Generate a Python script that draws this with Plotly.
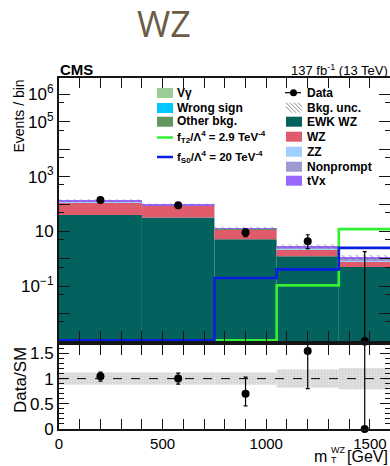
import plotly.graph_objects as go

# ---------------- data ----------------
bin_edges = [0, 400, 750, 1050, 1350, 3000]
ewk_wz = [40, 32, 5.2, 1.24, 0.50]
wz = [72, 53, 6.9, 0.91, 0.29]
vgamma = [0.8, 0.3, 0.03, 0.02, 0.005]
wrong_sign = [0.8, 0.3, 0.04, 0.02, 0.005]
other_bkg = [1.9, 0.6, 0.08, 0.04, 0.01]
zz = [3.0, 1.2, 0.15, 0.08, 0.03]
nonprompt = [10.0, 3.5, 0.45, 0.30, 0.20]
tvx = [4.0, 1.5, 0.25, 0.20, 0.10]
bkg_unc = [0.12, 0.12, 0.12, 0.18, 0.21]      # relative uncertainty

data_x = [200, 575, 900, 1200, 1475]
data_y = [140, 90, 9.2, 4.35, 0]
data_err_up = [12, 9.5, 3.3, 3.2, 1.84]
data_err_dn = [12, 9.5, 2.7, 2.0, 0]

ratio = [1.045, 1.0, 0.70, 1.55, 0]
ratio_err_up = [0.085, 0.11, 0.33, 1.0, 1.667]
ratio_err_dn = [0.095, 0.11, 0.24, 0.75, 0]

f_t2 = [0, 0, 0, 0.107, 12.1]
f_s0 = [0, 0, 0.20, 0.41, 2.5]

y_tick_vals = [1e-3, 1e-2, 1e-1, 1, 10, 1e2, 1e3, 1e4, 1e5, 1e6]
y_tick_text = ["", "", "10<sup>\u22121</sup>", "", "10", "", "10<sup>3</sup>", "", "10<sup>5</sup>", "10<sup>6</sup>"]
x_tick_vals = [0, 500, 1000, 1500]
x_tick_text = ["0", "500", "1000", "1500"]

# ---------------- styles ----------------
C_EWK = "#03625e"
C_WZ = "#df5a6a"
C_VG = "#99cc99"
C_WS = "#00c8ff"
C_OTH = "#5f975f"
C_ZZ = "#a0cfff"
C_NP = "#9c9ad0"
C_TVX = "#9966ff"
C_T2 = "#33f033"
C_S0 = "#0a1ee0"
FONT = "Liberation Sans"

W, H = 390, 466
L, R, T, B = 59, 0, 78, 37
PW, PH = W - L - R, H - T - B


def px(x):
    return (x - L) / PW


def py(y):
    return (H - B - y) / PH


centers = [(a + b) / 2 for a, b in zip(bin_edges[:-1], bin_edges[1:])]
widths = [b - a for a, b in zip(bin_edges[:-1], bin_edges[1:])]

fig = go.Figure()

stack = [
    ("EWK WZ", ewk_wz, C_EWK),
    ("WZ", wz, C_WZ),
    ("V\u03b3", vgamma, C_VG),
    ("Wrong sign", wrong_sign, C_WS),
    ("Other bkg.", other_bkg, C_OTH),
    ("ZZ", zz, C_ZZ),
    ("Nonprompt", nonprompt, C_NP),
    ("tVx", tvx, C_TVX),
]
cum = [0.0] * len(centers)
for name, vals, col in stack:
    kw = {}
    if any(c > 0 for c in cum):
        kw["base"] = list(cum)
    fig.add_trace(go.Bar(x=centers, y=vals, width=widths, marker=dict(color=col, line=dict(width=0)),
                         name=name, showlegend=False, xaxis="x", yaxis="y", **kw))
    cum = [c + v for c, v in zip(cum, vals)]
total = cum

# hatched bkg uncertainty
fig.add_trace(go.Bar(x=centers, y=[t * 2 * u for t, u in zip(total, bkg_unc)],
                     base=[t * (1 - u) for t, u in zip(total, bkg_unc)], width=widths,
                     marker=dict(color="rgba(0,0,0,0)", line=dict(width=0),
                                 pattern=dict(shape="\\", fgcolor="#6a6a8a", size=5, solidity=0.25)),
                     showlegend=False, xaxis="x", yaxis="y"))

# signal step lines
floor = 1.06e-3
xs = bin_edges
for vals, col in [(f_t2, C_T2), (f_s0, C_S0)]:
    ys = [v if v > 0 else floor for v in vals]
    ys = ys + [ys[-1]]
    fig.add_trace(go.Scatter(x=xs, y=ys, mode="lines", line=dict(color=col, width=2.6, shape="hv"),
                             showlegend=False, xaxis="x", yaxis="y"))

# data (main)
dy = [v if v > 0 else 1e-3 for v in data_y]
fig.add_trace(go.Scatter(x=data_x, y=dy, mode="markers", marker=dict(color="black", size=8),
                         error_y=dict(type="data", symmetric=False, array=data_err_up,
                                      arrayminus=[min(e, v * 0.999) if v > 0 else 0 for e, v in zip(data_err_dn, data_y)],
                                      color="black", thickness=1.2, width=2),
                         cliponaxis=False, showlegend=False, xaxis="x", yaxis="y"))

# ratio band
fig.add_trace(go.Bar(x=centers, y=[2 * u for u in bkg_unc], base=[1 - u for u in bkg_unc], width=widths,
                     marker=dict(color="#dadada", line=dict(width=0),
                                 pattern=dict(shape=".", fgcolor="#bdbdbd", bgcolor="#e2e2e2", size=3, solidity=0.4)),
                     showlegend=False, xaxis="x2", yaxis="y2"))

# ratio data
fig.add_trace(go.Scatter(x=data_x, y=ratio, mode="markers", marker=dict(color="black", size=8),
                         error_y=dict(type="data", symmetric=False, array=ratio_err_up, arrayminus=ratio_err_dn,
                                      color="black", thickness=1.2, width=2),
                         cliponaxis=False, showlegend=False, xaxis="x2", yaxis="y2"))

# dummy traces for right-side tick axes
fig.add_trace(go.Scatter(x=[None], y=[None], xaxis="x", yaxis="y3", showlegend=False))
fig.add_trace(go.Scatter(x=[None], y=[None], xaxis="x2", yaxis="y4", showlegend=False))

xr = [0, 1597]
main_dom = [py(341), 1]
ratio_dom = [0, py(345)]
LC = "#151515"

common_x = dict(range=xr, ticks="inside", ticklen=10, tickwidth=1, tickcolor=LC,
                tickvals=x_tick_vals, ticktext=x_tick_text,
                minor=dict(ticks="inside", ticklen=5, dtick=100, tick0=0, tickcolor=LC),
                showline=True, linewidth=2, linecolor=LC, mirror="allticks", showgrid=False, zeroline=False)

fig.update_layout(
    width=W, height=H, margin=dict(l=L, r=R, t=T, b=B),
    paper_bgcolor="white", plot_bgcolor="white", barmode="overlay",
    font=dict(family=FONT, color="black"),
    showlegend=False,
    xaxis=dict(domain=[0, 1], anchor="y", showticklabels=False, **common_x),
    xaxis2=dict(domain=[0, 1], anchor="y2", showticklabels=True, tickfont=dict(size=15, family=FONT), **common_x),
    yaxis=dict(domain=main_dom, anchor="x", type="log", range=[-3, 6.6], tickvals=y_tick_vals, ticktext=y_tick_text,
               ticks="inside", ticklen=11, tickcolor=LC, tickfont=dict(size=17, family=FONT),
               minor=dict(ticks="inside", ticklen=5, tickvals=[5 * v for v in y_tick_vals], tickcolor=LC),
               showline=True, linewidth=2, linecolor=LC, showgrid=False, zeroline=False),
    yaxis3=dict(overlaying="y", side="right", anchor="x", type="log", range=[-3, 6.6], tickvals=y_tick_vals,
                ticks="inside", ticklen=11, tickcolor=LC, showticklabels=False,
                minor=dict(ticks="inside", ticklen=5, tickvals=[5 * v for v in y_tick_vals], tickcolor=LC),
                showline=False, showgrid=False, zeroline=False),
    yaxis2=dict(domain=ratio_dom, anchor="x2", range=[0, 1.667], tickvals=[0, 0.5, 1, 1.5],
                ticktext=["0", "0.5", "1", "1.5"], ticks="inside", ticklen=10, tickcolor=LC,
                tickfont=dict(size=17, family=FONT),
                minor=dict(ticks="inside", ticklen=5, dtick=0.1, tick0=0, tickcolor=LC),
                showline=True, linewidth=2, linecolor=LC, showgrid=False, zeroline=False),
    yaxis4=dict(overlaying="y2", side="right", anchor="x2", range=[0, 1.667], tickvals=[0, 0.5, 1, 1.5],
                ticks="inside", ticklen=10, tickcolor=LC, showticklabels=False,
                minor=dict(ticks="inside", ticklen=5, dtick=0.1, tick0=0, tickcolor=LC),
                showline=False, showgrid=False, zeroline=False),
)

shapes = []
ann = []

# dashed unity line in ratio
shapes.append(dict(type="line", xref="x2", yref="y2", x0=xr[0], x1=xr[1], y0=1, y1=1,
                   line=dict(color="black", width=1, dash="dash")))


def text(t, x, y, size, xanchor="left", yanchor="middle", **kw):
    f = dict(size=size, family=kw.pop("family", FONT))
    if "color" in kw:
        f["color"] = kw.pop("color")
    ann.append(dict(text=t, x=px(x), y=py(y), xref="paper", yref="paper", showarrow=False,
                    xanchor=xanchor, yanchor=yanchor, font=f, **kw))


# title and labels
text("WZ", 164, 23, 36, xanchor="center", color="#6b5d45", family="Open Sans")
text("<b>CMS</b>", 58, 69, 15)
text("137 fb<sup>-1</sup> (13 TeV)", 390, 70, 13, xanchor="right")
text("Events / bin", 18, 78, 14, xanchor="center", yanchor="top", textangle=-90)
text("Data/SM", 20, 345, 17, xanchor="center", yanchor="top", textangle=-90)
# x-axis title: m with stacked sub/superscript
text("[GeV]", 390, 456.5, 16, xanchor="right")
text("m", 329, 456.5, 16, xanchor="right")
text("WZ", 328.5, 450, 9)
text("T", 329, 460.5, 9)

# manual legend
def box(x0, yc, col):
    shapes.append(dict(type="rect", xref="paper", yref="paper", x0=px(x0), x1=px(x0 + 16),
                       y0=py(yc + 5), y1=py(yc - 5), fillcolor=col, line=dict(width=0)))


def hline(x0, yc, col, w=2.5):
    shapes.append(dict(type="line", xref="paper", yref="paper", x0=px(x0), x1=px(x0 + 16),
                       y0=py(yc), y1=py(yc), line=dict(color=col, width=w)))


def label(x, yc, t, size=12):
    ann.append(dict(text=t, x=px(x), y=py(yc), xref="paper", yref="paper", showarrow=False,
                    xanchor="left", yanchor="middle", font=dict(size=size, family=FONT, weight="bold")))


c1b, c1t = 157, 175
box(c1b, 93, C_VG); label(c1t, 93, "V\u03b3")
box(c1b, 108, C_WS); label(c1t, 108, "Wrong sign")
box(c1b, 121.7, C_OTH); label(c1t, 121.3, "Other bkg.")
hline(c1b, 137.5, C_T2); label(c1t, 137, "f<sub>T2</sub>/\u039b<sup>4</sup> = 2.9 TeV<sup>-4</sup>", 11.5)
hline(c1b, 157, C_S0); label(c1t, 156.5, "f<sub>S0</sub>/\u039b<sup>4</sup> = 20 TeV<sup>-4</sup>", 11.5)

c2b, c2t = 286, 305
hline(c2b - 1, 92.7, "black", 1.2)
shapes.append(dict(type="circle", xref="paper", yref="paper", x0=px(290), x1=px(297),
                   y0=py(96.2), y1=py(89.2), fillcolor="black", line=dict(width=0)))
label(c2t, 92.7, "Data")
for i in range(5):
    xa = c2b + i * 4 - 4
    shapes.append(dict(type="line", xref="paper", yref="paper", x0=px(max(xa, c2b)),
                       y0=py(102.7 + (max(xa, c2b) - xa)), x1=px(min(xa + 10, c2b + 16)),
                       y1=py(102.7 + (min(xa + 10, c2b + 16) - xa)), line=dict(color="#888", width=1)))
label(c2t, 107.7, "Bkg. unc.")
box(c2b, 121.7, C_EWK); label(c2t, 121.7, "EWK WZ")
box(c2b, 136.7, C_WZ); label(c2t, 136.7, "WZ")
box(c2b, 151.7, C_ZZ); label(c2t, 151.7, "ZZ")
box(c2b, 166.7, C_NP); label(c2t, 166.7, "Nonprompt")
box(c2b, 180.7, C_TVX); label(c2t, 180.7, "tVx")

fig.update_layout(shapes=shapes, annotations=ann)
fig.write_html("out.html", config={"displayModeBar": False},
               post_script="document.body.style.margin='0';document.body.style.overflow='hidden';")
